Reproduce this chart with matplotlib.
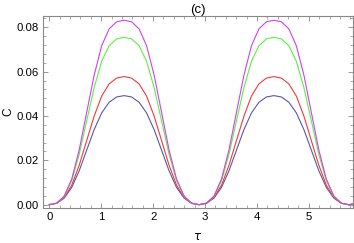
import numpy as np
import matplotlib
matplotlib.use("Agg")
import matplotlib.pyplot as plt
from matplotlib.ticker import MultipleLocator

plt.rcParams['font.family'] = ['Liberation Sans', 'DejaVu Sans']

# sample points along tau (two periods)
tau = [0.0, 0.144, 0.289, 0.433, 0.577, 0.721, 0.866, 1.010, 1.154, 1.298,
       1.443, 1.587, 1.731, 1.875, 2.020, 2.164, 2.308, 2.452, 2.597, 2.741,
       2.885, 3.029, 3.174, 3.318, 3.462, 3.606, 3.751, 3.895, 4.039, 4.183,
       4.328, 4.472, 4.616, 4.760, 4.905, 5.049, 5.193, 5.337, 5.482, 5.626,
       5.770, 5.850]

c_blue = [0, .0006, .0030, .0078, .0153, .0246, .0339, .0414, .0462, .0486,
          .0492, .0486, .0462, .0414, .0339, .0246, .0153, .0078, .0030, .0006,
          0, .0006, .0030, .0078, .0153, .0246, .0339, .0414, .0462, .0486,
          .0492, .0486, .0462, .0414, .0339, .0246, .0153, .0078, .0030, .0006,
          0, .0003]
c_red = [0, .0007, .0033, .0088, .0178, .0289, .0400, .0490, .0545, .0571,
         .0578, .0571, .0545, .0490, .0400, .0289, .0178, .0088, .0033, .0007,
         0, .0007, .0033, .0088, .0178, .0289, .0400, .0490, .0545, .0571,
         .0578, .0571, .0545, .0490, .0400, .0289, .0178, .0088, .0033, .0007,
         0, .0003]
c_green = [0, .0007, .0038, .0108, .0227, .0378, .0529, .0647, .0717, .0748,
           .0755, .0748, .0717, .0647, .0529, .0378, .0227, .0108, .0038, .0007,
           0, .0007, .0038, .0108, .0227, .0378, .0529, .0647, .0717, .0748,
           .0755, .0748, .0717, .0647, .0529, .0378, .0227, .0108, .0038, .0007,
           0, .0003]
c_magenta = [0, .0007, .0039, .0116, .0247, .0416, .0585, .0717, .0793, .0825,
             .0832, .0825, .0793, .0717, .0585, .0416, .0247, .0116, .0039, .0007,
             0, .0007, .0039, .0116, .0247, .0416, .0585, .0717, .0793, .0825,
             .0832, .0825, .0793, .0717, .0585, .0416, .0247, .0116, .0039, .0007,
             0, .0003]

fig = plt.figure(figsize=(3.54, 2.43), dpi=100)
ax = fig.add_axes([0.1215, 0.143, 0.8755, 0.791])

ax.plot(tau, c_blue, color='#5858a8', lw=0.8)
ax.plot(tau, c_red, color='#f03a3a', lw=0.8)
ax.plot(tau, c_green, color='#5cf040', lw=0.8)
ax.plot(tau, c_magenta, color='#d040f0', lw=0.8)

ax.set_xlim(-0.12, 5.85)
ax.set_ylim(-0.0016, 0.0851)
ax.xaxis.set_major_locator(MultipleLocator(1))
ax.xaxis.set_minor_locator(MultipleLocator(0.2))
ax.yaxis.set_major_locator(MultipleLocator(0.02))
ax.yaxis.set_minor_locator(MultipleLocator(0.004))
ax.yaxis.set_major_formatter(plt.FuncFormatter(lambda v, p: '%.2f' % v))

ax.tick_params(which='both', direction='in', top=True, right=True,
               color='#888888', labelsize=8.2, pad=3)
ax.tick_params(which='major', length=3.5, width=0.6)
ax.tick_params(which='minor', length=2, width=0.5)
for s in ax.spines.values():
    s.set_color('#888888')
    s.set_linewidth(0.8)

ax.set_title('(c)', fontsize=9.5, pad=2)
ax.set_ylabel('C', fontsize=8.5, va='center')
ax.yaxis.set_label_coords(-0.112, 0.5)
ax.set_xlabel(r'$\tau$', fontsize=8.5, va='center')
ax.xaxis.set_label_coords(0.5, -0.152)

fig.savefig('out.png', dpi=100)
